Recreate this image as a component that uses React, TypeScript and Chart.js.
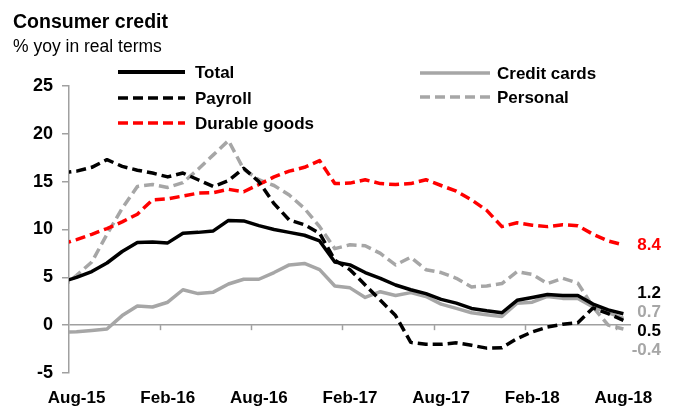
import React, { useEffect, useRef } from 'react';
import { Chart, registerables } from 'chart.js';

Chart.register(...registerables);

// ---- data ----
const months = [
  'Jul-15', 'Aug-15', 'Sep-15', 'Oct-15', 'Nov-15', 'Dec-15', 'Jan-16', 'Feb-16', 'Mar-16', 'Apr-16',
  'May-16', 'Jun-16', 'Jul-16', 'Aug-16', 'Sep-16', 'Oct-16', 'Nov-16', 'Dec-16', 'Jan-17', 'Feb-17',
  'Mar-17', 'Apr-17', 'May-17', 'Jun-17', 'Jul-17', 'Aug-17', 'Sep-17', 'Oct-17', 'Nov-17', 'Dec-17',
  'Jan-18', 'Feb-18', 'Mar-18', 'Apr-18', 'May-18', 'Jun-18', 'Jul-18', 'Aug-18',
];
const tickLabels = ['Aug-15', 'Feb-16', 'Aug-16', 'Feb-17', 'Aug-17', 'Feb-18', 'Aug-18'];

const total = [4.5, 5.0, 5.6, 6.5, 7.7, 8.65, 8.7, 8.6, 9.6, 9.7, 9.85, 10.95, 10.9, 10.4, 10.0, 9.7, 9.4, 8.8, 6.6, 6.3, 5.5, 4.9, 4.2, 3.7, 3.3, 2.7, 2.3, 1.75, 1.5, 1.3, 2.6, 2.9, 3.2, 3.1, 3.1, 2.2, 1.6, 1.2];
const payroll = [15.9, 16.1, 16.5, 17.3, 16.6, 16.2, 15.9, 15.5, 15.9, 15.2, 14.5, 15.1, 16.4, 15.0, 12.7, 11.0, 10.5, 9.6, 6.8, 5.8, 4.2, 2.6, 1.0, -1.8, -2.0, -2.0, -1.85, -2.1, -2.4, -2.35, -1.4, -0.7, -0.2, 0.1, 0.25, 1.8, 1.2, 0.5];
const durableGoods = [8.45, 8.95, 9.5, 10.1, 10.8, 11.6, 13.1, 13.2, 13.5, 13.8, 13.85, 14.2, 13.95, 14.7, 15.5, 16.1, 16.5, 17.2, 14.8, 14.85, 15.2, 14.8, 14.7, 14.8, 15.2, 14.6, 14.0, 13.1, 12.0, 10.3, 10.7, 10.45, 10.3, 10.5, 10.4, 9.5, 8.8, 8.4];
const creditCards = [-0.75, -0.7, -0.55, -0.4, 1.0, 2.0, 1.9, 2.4, 3.7, 3.3, 3.45, 4.3, 4.8, 4.8, 5.5, 6.3, 6.45, 5.8, 4.1, 3.9, 2.9, 3.5, 3.1, 3.4, 3.0, 2.2, 1.75, 1.3, 1.1, 0.9, 2.3, 2.4, 3.0, 2.8, 2.8, 1.9, 1.3, 0.7];
const personal = [3.9, 5.2, 6.6, 9.5, 12.2, 14.5, 14.7, 14.4, 14.9, 16.3, 17.8, 19.3, 16.3, 15.2, 14.6, 13.6, 12.2, 10.3, 8.0, 8.4, 8.3, 7.5, 6.3, 7.1, 5.8, 5.5, 4.9, 4.0, 4.1, 4.35, 5.6, 5.3, 4.35, 4.9, 4.4, 1.9, 0.0, -0.4];

const yMin = -5;
const yMax = 25;
const yStep = 5;

// ---- styles ----
const FONT = "'Liberation Sans', Arial, sans-serif";
const AXIS = '#a0a0a0';
const GRAY = '#a6a6a6';
const RED = '#ff0000';
const DASH = [10, 5];

const series = [
  { label: 'Total', data: total, color: '#000', dash: [] as number[], width: 3.5, labelColor: '#000' },
  { label: 'Payroll', data: payroll, color: '#000', dash: DASH, width: 3.5, labelColor: '#000' },
  { label: 'Durable goods', data: durableGoods, color: RED, dash: DASH, width: 3.5, labelColor: RED },
  { label: 'Credit cards', data: creditCards, color: GRAY, dash: [] as number[], width: 3.5, labelColor: GRAY },
  { label: 'Personal', data: personal, color: GRAY, dash: DASH, width: 3.5, labelColor: GRAY },
];

const legendLayout = [
  { name: 'Total', x1: 118, x2: 185, tx: 195, y: 72 },
  { name: 'Payroll', x1: 118, x2: 185, tx: 195, y: 98 },
  { name: 'Durable goods', x1: 118, x2: 185, tx: 195, y: 123 },
  { name: 'Credit cards', x1: 420, x2: 490, tx: 497, y: 73 },
  { name: 'Personal', x1: 420, x2: 490, tx: 497, y: 97 },
];

function spread(pys: number[], gap: number): number[] {
  const order = pys.map((p, i) => i).sort((a, b) => pys[a] - pys[b]);
  let groups = order.map((i) => ({ idx: [i], center: pys[i] }));
  let merged = true;
  while (merged) {
    merged = false;
    for (let g = 0; g < groups.length - 1; g++) {
      const a = groups[g];
      const b = groups[g + 1];
      const aBottom = a.center + ((a.idx.length - 1) * gap) / 2;
      const bTop = b.center - ((b.idx.length - 1) * gap) / 2;
      if (bTop - aBottom < gap) {
        const idx = [...a.idx, ...b.idx];
        const center = idx.reduce((s, i) => s + pys[i], 0) / idx.length;
        groups.splice(g, 2, { idx, center });
        merged = true;
        break;
      }
    }
  }
  const out: number[] = [];
  groups.forEach((g) => g.idx.forEach((i, k) => { out[i] = g.center + (k - (g.idx.length - 1) / 2) * gap; }));
  return out;
}

const decorPlugin = {
  id: 'decor',
  afterDatasetsDraw(chart: any) {
    const { ctx, scales } = chart;
    const xs = scales.x;
    const ys = scales.y;
    ctx.save();
    // tick marks on the zero line, at category boundaries
    const y0 = ys.getPixelForValue(0);
    ctx.strokeStyle = AXIS;
    ctx.lineWidth = 1.5;
    tickLabels.forEach((lab, k) => {
      if (k === 0) return;
      const i = months.indexOf(lab);
      const px = Math.round(xs.getPixelForValue(i - 0.5)) + 0.5;
      ctx.beginPath();
      ctx.moveTo(px, y0);
      ctx.lineTo(px, y0 + 5);
      ctx.stroke();
    });

    // end-of-series value labels
    const lastIdx = months.length - 1;
    const pys = series.map((s) => ys.getPixelForValue(s.data[lastIdx]));
    const placed = spread(pys, 19);
    ctx.font = `bold 17px ${FONT}`;
    ctx.textAlign = 'right';
    ctx.textBaseline = 'middle';
    series.forEach((s, i) => {
      ctx.fillStyle = s.labelColor;
      ctx.fillText(s.data[lastIdx].toFixed(1), 661, placed[i] + 1);
    });
    ctx.restore();
  },
  afterDraw(chart: any) {
    const { ctx } = chart;
    ctx.save();
    // title
    ctx.fillStyle = '#000';
    ctx.textAlign = 'left';
    ctx.textBaseline = 'alphabetic';
    ctx.font = `bold 19.5px ${FONT}`;
    ctx.fillText('Consumer credit', 13, 28);
    ctx.font = `17.5px ${FONT}`;
    ctx.fillText('% yoy in real terms', 13, 52);

    // legend
    ctx.textBaseline = 'middle';
    ctx.font = `bold 17px ${FONT}`;
    legendLayout.forEach((l) => {
      const s = series.find((q) => q.label === l.name)!;
      ctx.strokeStyle = s.color;
      ctx.lineWidth = s.label === 'Total' ? 4 : 3.5;
      ctx.setLineDash(s.dash);
      ctx.beginPath();
      ctx.moveTo(l.x1, l.y);
      ctx.lineTo(l.x2, l.y);
      ctx.stroke();
      ctx.setLineDash([]);
      ctx.fillStyle = '#000';
      ctx.fillText(l.name, l.tx, l.y + 1);
    });
    ctx.restore();
  },
};

export default function App() {
  const ref = useRef<HTMLCanvasElement | null>(null);

  useEffect(() => {
    if (!ref.current) return;
    const tickIdx = tickLabels.map((t) => months.indexOf(t));
    const chart = new Chart(ref.current, {
      type: 'line',
      data: {
        datasets: series.map((s) => ({
          label: s.label,
          data: s.data.map((v, i) => ({ x: i, y: v })),
          borderColor: s.color,
          backgroundColor: s.color,
          borderWidth: s.width,
          borderDash: s.dash,
          pointRadius: 0,
          pointHoverRadius: 0,
          tension: 0,
          fill: false,
          borderJoinStyle: 'round' as const,
        })),
      },
      options: {
        responsive: false,
        animation: false,
        devicePixelRatio: 1,
        layout: { padding: { top: 86, right: 44, left: 0, bottom: 0 } },
        plugins: { legend: { display: false }, tooltip: { enabled: false }, title: { display: false } },
        events: [],
        scales: {
          x: {
            type: 'linear',
            min: 0.5,
            max: months.length - 0.5,
            afterBuildTicks: (s: any) => {
              s.ticks = tickIdx.map((v) => ({ value: v }));
            },
            afterFit: (s: any) => {
              s.height = 37;
            },
            ticks: {
              autoSkip: false,
              maxRotation: 0,
              minRotation: 0,
              padding: 7,
              color: '#000',
              font: { family: FONT, size: 17, weight: 'bold' },
              callback: (v: any) => months[Math.round(Number(v))],
            },
            grid: { display: false },
            border: { display: false },
          },
          y: {
            min: yMin,
            max: yMax,
            afterFit: (s: any) => {
              s.width = 69;
            },
            ticks: {
              stepSize: yStep,
              padding: 9,
              color: '#000',
              font: { family: FONT, size: 18, weight: 'bold' },
            },
            grid: {
              color: (c: any) => (c.tick && c.tick.value === 0 ? AXIS : 'rgba(0,0,0,0)'),
              tickColor: AXIS,
              tickLength: 7,
              lineWidth: 1.5,
              drawTicks: true,
            },
            border: { color: AXIS, width: 1.5 },
          },
        },
      },
      plugins: [decorPlugin],
    } as any);
    return () => chart.destroy();
  }, []);

  return (
    <div style={{ position: 'fixed', left: 0, top: 0, width: 675, height: 410, background: '#fff' }}>
      <canvas ref={ref} width={675} height={410} style={{ display: 'block' }} />
    </div>
  );
}
